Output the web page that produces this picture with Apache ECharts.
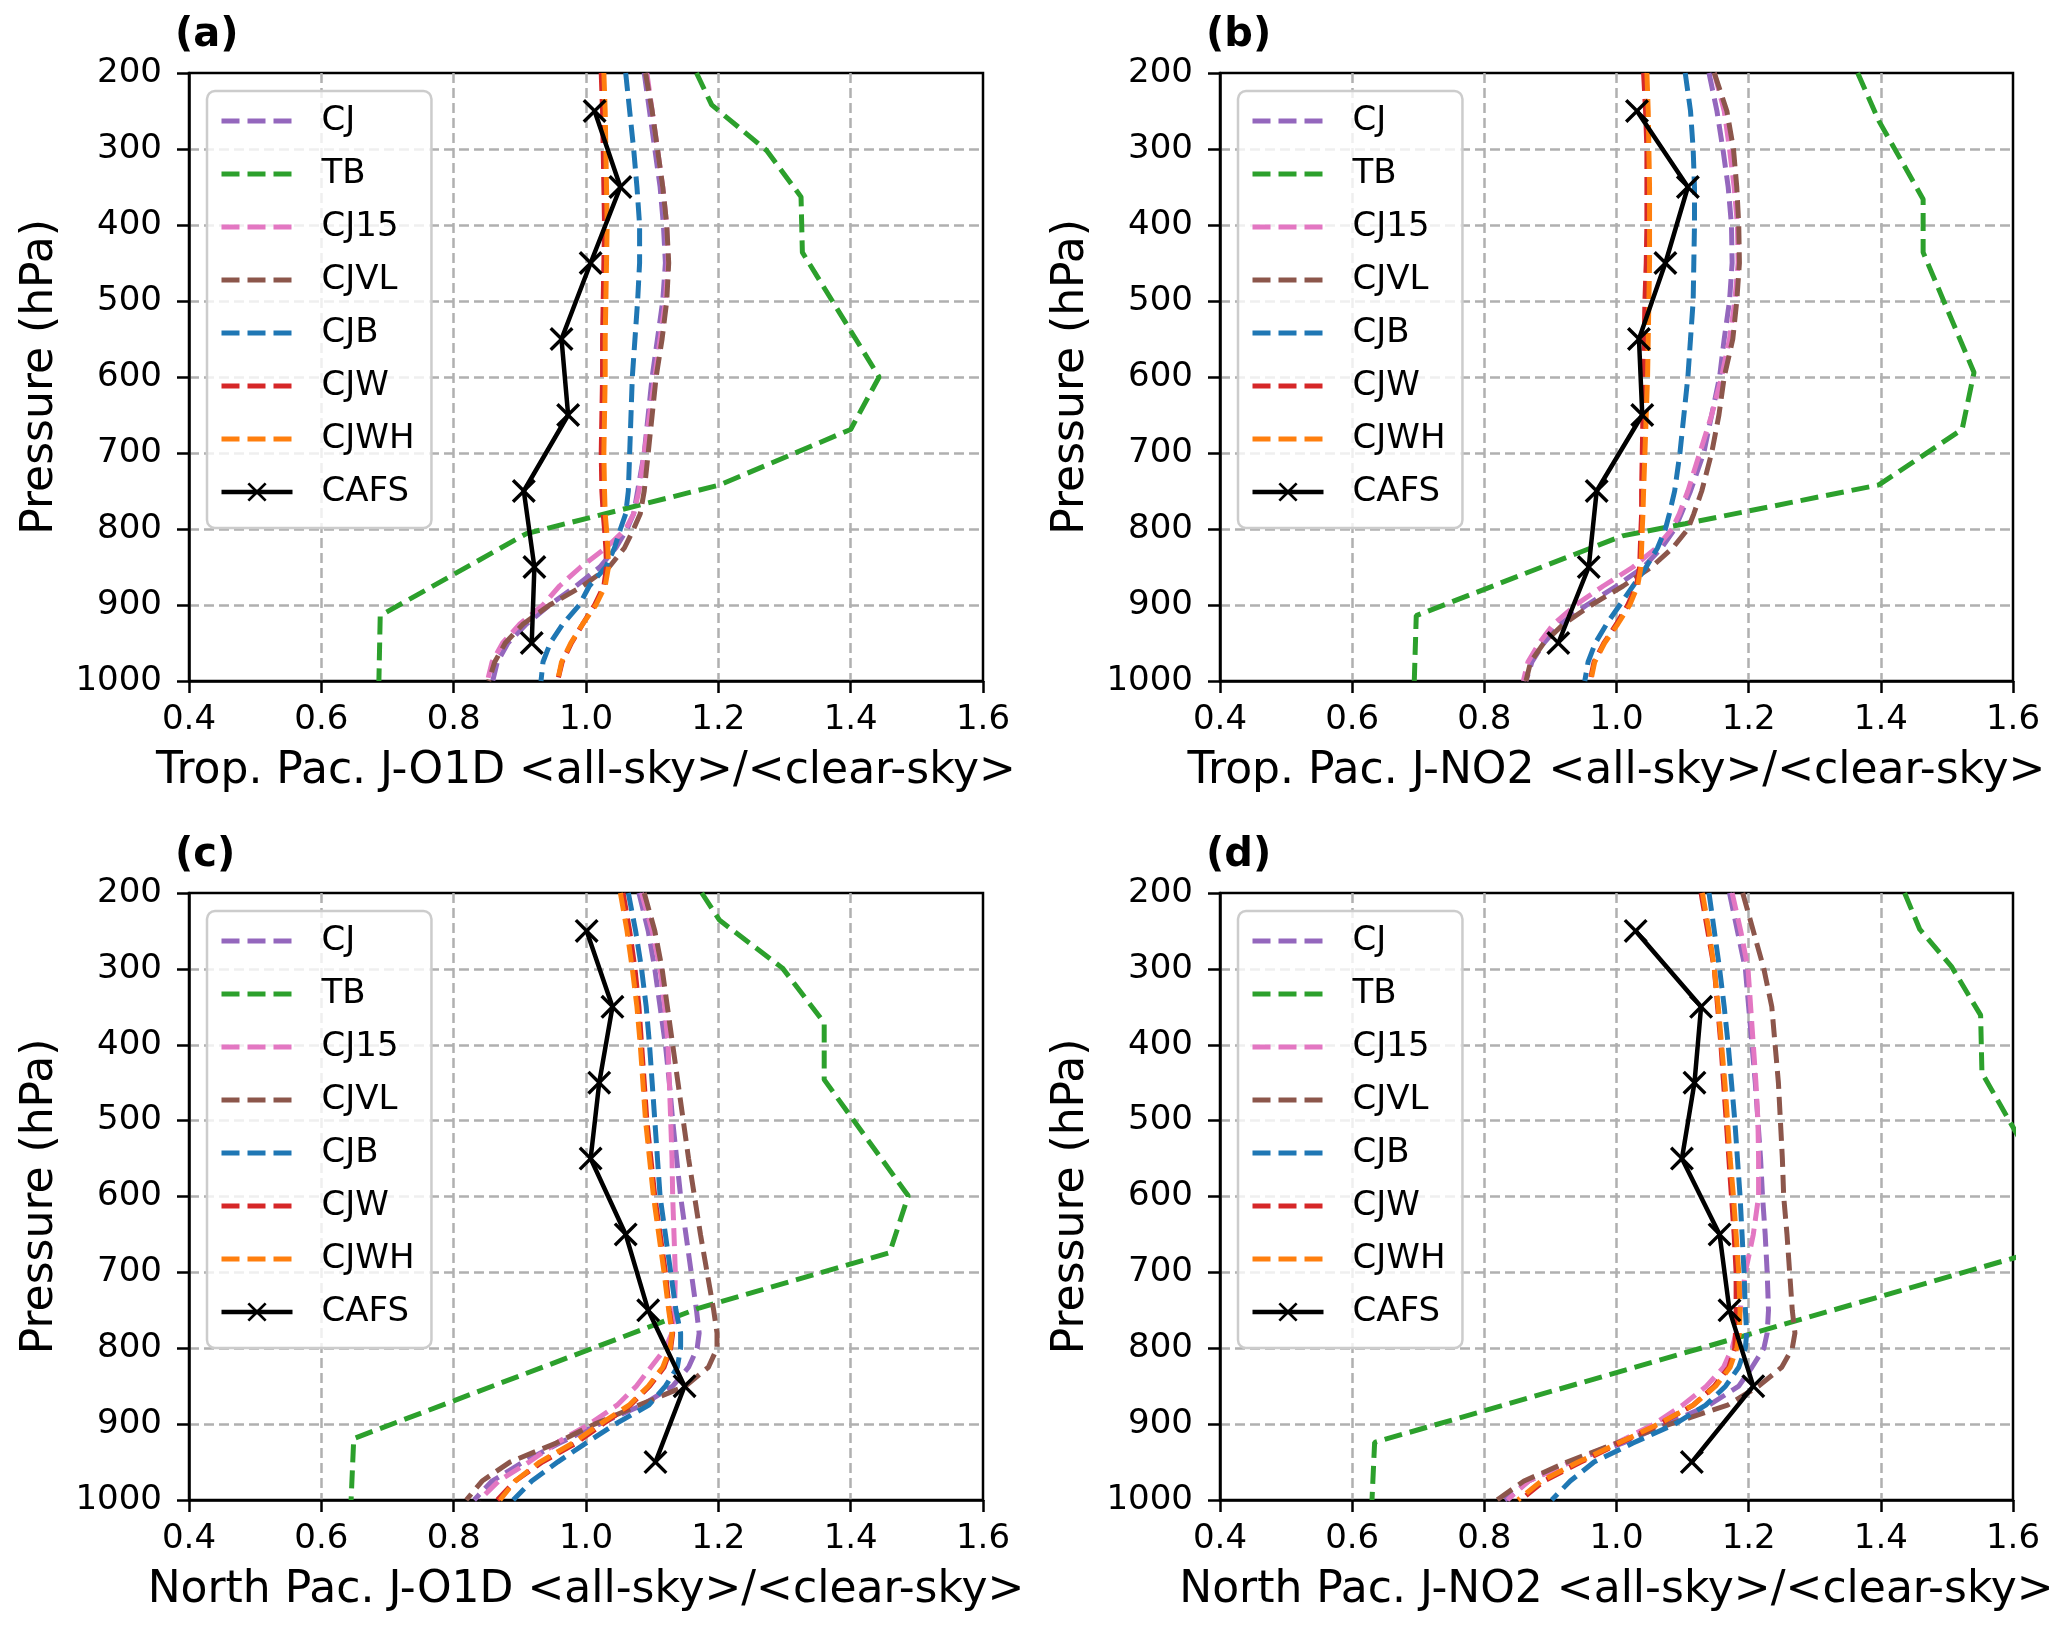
<!DOCTYPE html>
<html><head><meta charset="utf-8">
<script src="https://cdn.jsdelivr.net/npm/echarts@6/dist/echarts.min.js"></script>
<style>html,body{margin:0;padding:0;background:#fff}#c{width:2067px;height:1633px}</style>
</head><body><div id="c"></div>
<script>
// ---------- data ----------
const P_LEVELS = [200,250,300,350,400,450,500,550,600,650,700,750,780,800,825,850,875,900,925,950,975,1000];
const CAFS_P = [250,350,450,550,650,750,850,950];
const X_TICKS = [0.4,0.6,0.8,1.0,1.2,1.4,1.6];
const Y_TICKS = [200,300,400,500,600,700,800,900,1000];
const SERIES_NAMES = ['CJ','TB','CJ15','CJVL','CJB','CJW','CJWH','CAFS'];
const PANEL_TITLES = ['(a)','(b)','(c)','(d)'];
const X_NAMES = ['Trop. Pac. J-O1D <all-sky>/<clear-sky>','Trop. Pac. J-NO2 <all-sky>/<clear-sky>',
                 'North Pac. J-O1D <all-sky>/<clear-sky>','North Pac. J-NO2 <all-sky>/<clear-sky>'];

// panel (a)
const CJ_A   = [1.088,1.096,1.104,1.112,1.117,1.120,1.116,1.108,1.100,1.094,1.088,1.078,1.072,1.062,1.045,1.021,0.985,0.945,0.910,0.882,0.866,0.859];
const CJ15_A = [1.092,1.100,1.108,1.116,1.122,1.124,1.120,1.112,1.104,1.096,1.088,1.080,1.072,1.060,1.030,0.992,0.960,0.935,0.900,0.874,0.858,0.851];
const CJVL_A = [1.090,1.100,1.108,1.116,1.122,1.125,1.122,1.115,1.106,1.100,1.094,1.088,1.082,1.072,1.058,1.035,0.995,0.945,0.905,0.878,0.862,0.853];
const CJB_A  = [1.060,1.066,1.072,1.077,1.081,1.081,1.078,1.074,1.070,1.068,1.066,1.064,1.060,1.052,1.043,1.030,1.005,0.990,0.965,0.946,0.935,0.932];
const CJW_A  = [1.023,1.025,1.026,1.027,1.028,1.027,1.026,1.025,1.025,1.024,1.023,1.024,1.026,1.028,1.030,1.031,1.027,1.013,0.995,0.978,0.964,0.957];
const CJWH_A = [1.027,1.029,1.030,1.031,1.032,1.031,1.030,1.029,1.029,1.028,1.027,1.028,1.029,1.031,1.033,1.034,1.029,1.015,0.995,0.977,0.963,0.957];
const TB_A_P = [200,242,302,363,436,600,669,742,806,914,1000];
const TB_A   = [1.167,1.190,1.273,1.325,1.327,1.443,1.400,1.202,0.910,0.689,0.687];
const CAFS_A = [1.013,1.052,1.007,0.963,0.973,0.906,0.922,0.918];

// panel (b)
const CJ_B   = [1.140,1.152,1.161,1.169,1.174,1.175,1.171,1.163,1.156,1.144,1.132,1.112,1.098,1.088,1.068,1.041,1.000,0.955,0.915,0.890,0.872,0.863];
const CJ15_B = [1.148,1.163,1.171,1.178,1.183,1.184,1.179,1.171,1.159,1.144,1.126,1.108,1.095,1.084,1.060,1.025,0.980,0.938,0.905,0.883,0.866,0.859];
const CJVL_B = [1.148,1.167,1.177,1.182,1.185,1.186,1.182,1.176,1.163,1.155,1.144,1.129,1.117,1.108,1.085,1.053,1.010,0.962,0.920,0.890,0.870,0.863];
const CJB_B  = [1.104,1.112,1.116,1.118,1.118,1.117,1.116,1.112,1.108,1.102,1.096,1.088,1.080,1.074,1.062,1.045,1.025,1.005,0.985,0.968,0.957,0.952];
const CJW_B  = [1.041,1.044,1.046,1.046,1.046,1.045,1.043,1.042,1.041,1.040,1.039,1.038,1.038,1.037,1.036,1.035,1.030,1.017,1.000,0.981,0.966,0.960];
const CJWH_B = [1.046,1.048,1.049,1.050,1.050,1.050,1.049,1.048,1.047,1.045,1.043,1.041,1.040,1.039,1.038,1.037,1.032,1.020,1.002,0.982,0.967,0.961];
const TB_B_P = [200,263,366,436,594,669,742,793,809,914,1000];
const TB_B   = [1.365,1.397,1.464,1.464,1.541,1.523,1.397,1.104,1.009,0.697,0.694];
const CAFS_B = [1.031,1.108,1.074,1.034,1.039,0.970,0.958,0.912];

// panel (c)
const CJ_C   = [1.080,1.094,1.104,1.112,1.120,1.126,1.131,1.137,1.143,1.151,1.159,1.167,1.171,1.168,1.155,1.131,1.085,1.020,0.960,0.905,0.858,0.831];
const CJ15_C = [1.084,1.100,1.112,1.119,1.124,1.126,1.128,1.130,1.131,1.133,1.135,1.134,1.130,1.120,1.098,1.076,1.047,1.005,0.955,0.914,0.868,0.839];
const CJVL_C = [1.088,1.104,1.115,1.123,1.131,1.139,1.147,1.155,1.164,1.173,1.183,1.193,1.198,1.198,1.185,1.150,1.080,1.013,0.955,0.885,0.843,0.819];
const CJB_C  = [1.064,1.075,1.084,1.091,1.096,1.100,1.104,1.108,1.112,1.120,1.128,1.136,1.143,1.143,1.138,1.120,1.095,1.044,1.000,0.957,0.918,0.890];
const CJW_C  = [1.056,1.066,1.074,1.080,1.084,1.088,1.092,1.098,1.104,1.112,1.120,1.126,1.131,1.128,1.118,1.096,1.067,1.025,0.985,0.934,0.893,0.866];
const CJWH_C = [1.052,1.062,1.070,1.077,1.082,1.086,1.090,1.096,1.102,1.110,1.118,1.125,1.130,1.127,1.116,1.094,1.065,1.021,0.980,0.930,0.893,0.870];
const TB_C_P = [200,236,299,371,446,599,674,747,919,1000];
const TB_C   = [1.175,1.202,1.297,1.360,1.360,1.487,1.459,1.171,0.649,0.645];
const CAFS_C = [1.001,1.040,1.020,1.007,1.060,1.094,1.149,1.105];

// panel (d)
const CJ_D   = [1.171,1.183,1.195,1.200,1.205,1.210,1.214,1.218,1.221,1.225,1.228,1.230,1.228,1.223,1.205,1.185,1.140,1.075,1.009,0.930,0.867,0.831];
const CJ15_D = [1.175,1.188,1.199,1.203,1.207,1.211,1.214,1.215,1.215,1.207,1.195,1.187,1.181,1.175,1.162,1.136,1.100,1.057,1.000,0.930,0.867,0.835];
const CJVL_D = [1.191,1.207,1.223,1.235,1.240,1.245,1.248,1.251,1.253,1.258,1.262,1.266,1.270,1.266,1.250,1.215,1.168,1.081,1.000,0.925,0.860,0.819];
const CJB_D  = [1.140,1.148,1.156,1.163,1.169,1.174,1.179,1.183,1.187,1.190,1.193,1.195,1.197,1.195,1.185,1.165,1.135,1.088,1.025,0.966,0.930,0.902];
const CJW_D  = [1.128,1.138,1.148,1.153,1.158,1.162,1.166,1.170,1.174,1.178,1.181,1.181,1.180,1.179,1.170,1.148,1.116,1.065,1.005,0.946,0.890,0.855];
const CJWH_D = [1.130,1.140,1.148,1.154,1.159,1.164,1.168,1.172,1.177,1.181,1.185,1.187,1.186,1.182,1.172,1.150,1.116,1.063,1.003,0.942,0.886,0.851];
const TB_D_P = [200,248,297,361,437,600,670,924,1000];
const TB_D   = [1.436,1.459,1.507,1.551,1.553,1.660,1.645,0.634,0.630];
const CAFS_D = [1.029,1.128,1.118,1.099,1.156,1.171,1.207,1.114];

// ---------- layout / style ----------
const FONT = 'DejaVu Sans';
const COLORS = {CJ:'#9467bd', TB:'#2ca02c', CJ15:'#e377c2', CJVL:'#8c564b', CJB:'#1f77b4', CJW:'#d62728', CJWH:'#ff7f0e', CAFS:'#000000'};
const GRIDS = [
  {left:189, top:73, width:794, height:608},
  {left:1220, top:73, width:793, height:608},
  {left:189, top:893, width:794, height:607},
  {left:1220, top:893, width:793, height:607}
];
const TITLE_POS = [{left:175, top:16},{left:1206, top:16},{left:175, top:836},{left:1206, top:836}];
const X_SYMBOL = 'path://M0,1 L1,0 L5,4 L9,0 L10,1 L6,5 L10,9 L9,10 L5,6 L1,10 L0,9 L4,5 Z';
const DASH = [18,8];

const PANELS = [
  {CJ:CJ_A, CJ15:CJ15_A, CJVL:CJVL_A, CJB:CJB_A, CJW:CJW_A, CJWH:CJWH_A, TBP:TB_A_P, TB:TB_A, CAFS:CAFS_A},
  {CJ:CJ_B, CJ15:CJ15_B, CJVL:CJVL_B, CJB:CJB_B, CJW:CJW_B, CJWH:CJWH_B, TBP:TB_B_P, TB:TB_B, CAFS:CAFS_B},
  {CJ:CJ_C, CJ15:CJ15_C, CJVL:CJVL_C, CJB:CJB_C, CJW:CJW_C, CJWH:CJWH_C, TBP:TB_C_P, TB:TB_C, CAFS:CAFS_C},
  {CJ:CJ_D, CJ15:CJ15_D, CJVL:CJVL_D, CJB:CJB_D, CJW:CJW_D, CJWH:CJWH_D, TBP:TB_D_P, TB:TB_D, CAFS:CAFS_D}
];

function zip(xs, ps){ return xs.map((x,i)=>[x, ps[i]]); }

const splitLineStyle = {show:true, showMinLine:false, showMaxLine:false, lineStyle:{color:'#b0b0b0', width:2.5, type:[10,5]}};
const legendData = SERIES_NAMES.map(n => n === 'CAFS'
  ? {name:n, lineStyle:{color:'#000', width:4.5, type:'solid'}, itemStyle:{color:'#000'}}
  : {name:n, lineStyle:{color:COLORS[n], width:5, type:DASH}, itemStyle:{opacity:0}});

const grid = [], xAxis = [], yAxis = [], series = [], legend = [], title = [];
PANELS.forEach((pd, i) => {
  grid.push(Object.assign({show:true, borderColor:'#000', borderWidth:2.5, backgroundColor:'rgba(0,0,0,0)', containLabel:false}, GRIDS[i]));
  title.push({text:PANEL_TITLES[i], left:TITLE_POS[i].left, top:TITLE_POS[i].top, padding:0,
    textStyle:{fontSize:40, fontWeight:'bold', fontFamily:FONT, color:'#000'}});
  xAxis.push({type:'value', gridIndex:i, min:X_TICKS[0], max:X_TICKS[X_TICKS.length-1], interval:0.2,
    name:X_NAMES[i], nameLocation:'middle', nameGap:69,
    nameTextStyle:{fontSize:44, color:'#000', fontFamily:FONT},
    axisLine:{show:true, onZero:false, lineStyle:{color:'#000', width:2.5}},
    axisTick:{show:true, length:12, lineStyle:{color:'#000', width:2.5}},
    axisLabel:{fontSize:34, color:'#000', fontFamily:FONT, margin:22, formatter:v=>Number(v).toFixed(1)},
    splitLine:splitLineStyle});
  yAxis.push({type:'value', gridIndex:i, inverse:true, min:Y_TICKS[0], max:Y_TICKS[Y_TICKS.length-1], interval:100,
    name:'Pressure (hPa)', nameLocation:'middle', nameGap:126, nameRotate:90,
    nameTextStyle:{fontSize:44, color:'#000', fontFamily:FONT},
    axisLine:{show:true, onZero:false, lineStyle:{color:'#000', width:2.5}},
    axisTick:{show:true, length:12, lineStyle:{color:'#000', width:2.5}},
    axisLabel:{fontSize:34, color:'#000', fontFamily:FONT, margin:27, formatter:v=>String(Math.round(v))},
    splitLine:splitLineStyle});
  SERIES_NAMES.forEach(name => {
    let data;
    if (name === 'TB') data = zip(pd.TB, pd.TBP);
    else if (name === 'CAFS') data = zip(pd.CAFS, CAFS_P);
    else data = zip(pd[name], P_LEVELS);
    const s = {name, type:'line', xAxisIndex:i, yAxisIndex:i, data, animation:false, clip:true,
      color:COLORS[name]};
    if (name === 'CAFS') {
      Object.assign(s, {symbol:X_SYMBOL, symbolSize:24, showSymbol:true, showAllSymbol:true,
        itemStyle:{color:'#000'}, lineStyle:{color:'#000', width:4.5, type:'solid'}, z:3});
    } else {
      Object.assign(s, {symbol:'none', lineStyle:{color:COLORS[name], width:5, type:DASH}});
    }
    series.push(s);
  });
  legend.push({left:GRIDS[i].left+18, top:GRIDS[i].top+18, orient:'vertical',
    itemWidth:71, itemHeight:24, itemGap:17, padding:[12,17,18,12],
    backgroundColor:'rgba(255,255,255,0.8)', borderColor:'#cccccc', borderWidth:2.5, borderRadius:8,
    selectedMode:false,
    textStyle:{fontSize:34, fontFamily:FONT, color:'#000', lineHeight:36, padding:[0,0,0,24]},
    data:legendData});
});

const chart = echarts.init(document.getElementById('c'), null, {renderer:'canvas'});
chart.setOption({animation:false, backgroundColor:'#fff', textStyle:{fontFamily:FONT},
  title, grid, xAxis, yAxis, legend, series});
</script></body></html>
